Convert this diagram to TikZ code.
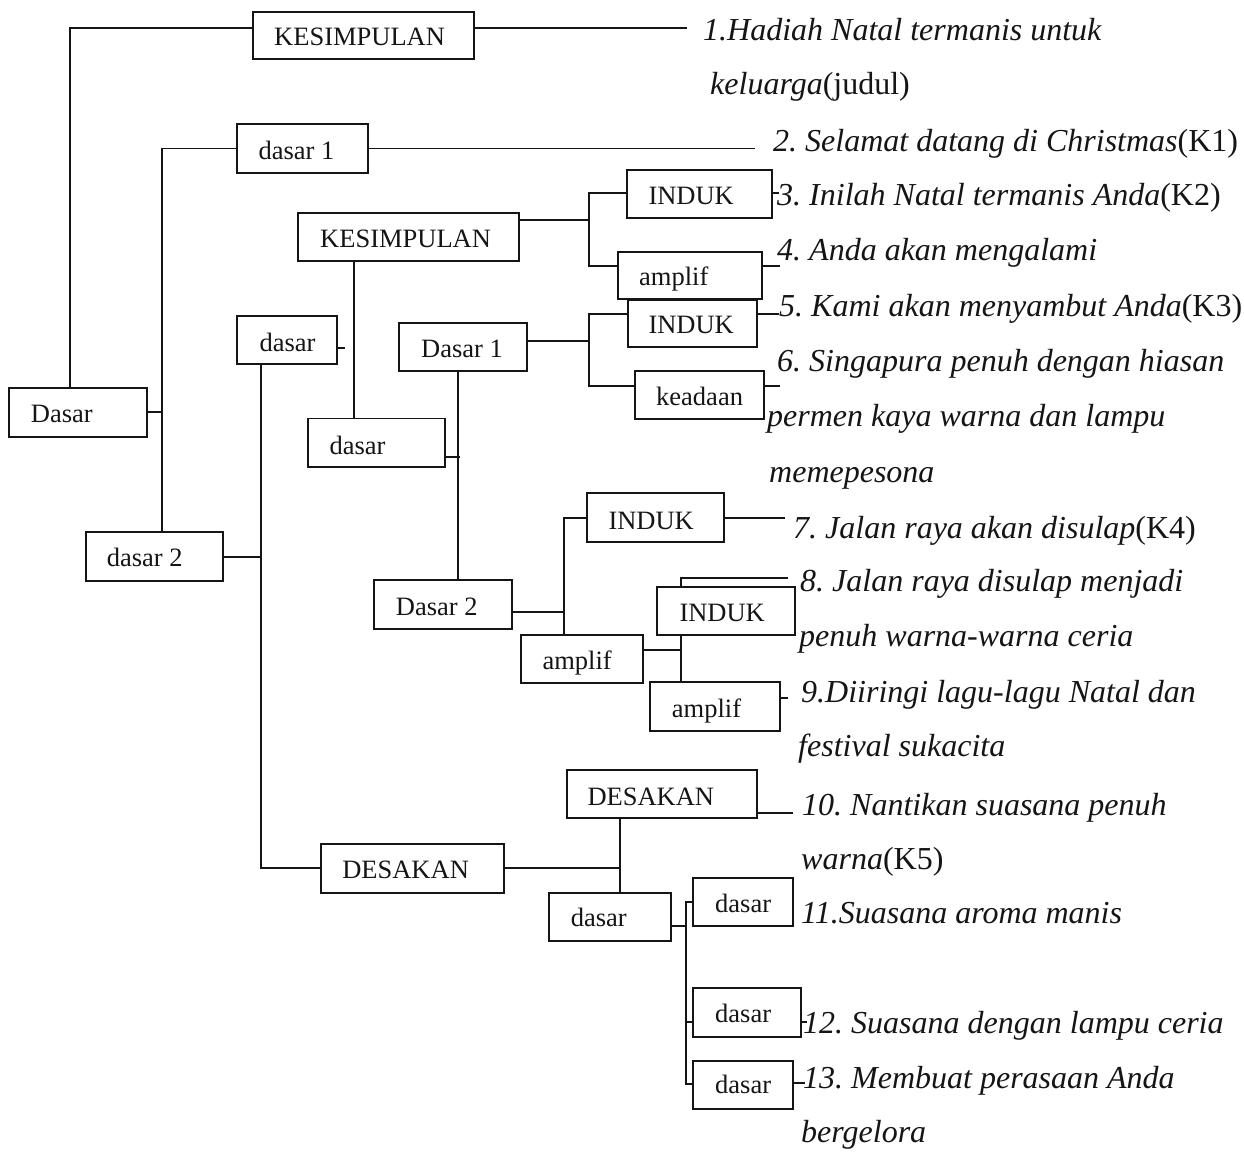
\documentclass[tikz,border=0pt]{standalone}
\usepackage{fontspec}
\setmainfont{Liberation Serif}
\frenchspacing
\definecolor{ink}{HTML}{151515}
\tikzset{
  box/.style={draw=ink, fill=white, line width=1.8pt, inner sep=0pt, outer sep=0pt},
  boxlabel/.style={anchor=base west, inner sep=0pt, text=ink, font=\fontsize{26.5}{30}\selectfont},
  itlabel/.style={anchor=base west, inner sep=0pt, text=ink, font=\fontsize{32}{38}\selectfont\itshape},
  wire/.style={draw=ink, line width=1.8pt},
}
% \bx{name}{x1}{y1}{x2}{y2}{text x}{text baseline}{text}
\newcommand\bx[8]{%
  \node[box, minimum width={(#4-#2)*1pt}, minimum height={(#5-#3)*1pt}] (#1) at ({(#2+#4)/2},{(#3+#5)/2}) {};
  \node[boxlabel] (#1-t) at (#6,#7) {#8};
}
\begin{document}
\begin{tikzpicture}[x=1pt, y=-1pt]
\useasboundingbox[fill=white] (0,0) rectangle (1244,1151);

% junction and end points of the connectors
\coordinate (jK)   at (70,28.3);
\coordinate (e1)   at (686.7,28.3);
\coordinate (jD1)  at (162.3,148.5);
\coordinate (e2)   at (755,148.5);
\coordinate (jD0)  at (162.3,412.3);
\coordinate (jD2)  at (260.7,556.7);
\coordinate (jE)   at (260.7,868.3);
\coordinate (s1)   at (345,347.7);
\coordinate (v1)   at (354,300);
\coordinate (s2)   at (460.3,457.3);
\coordinate (v2)   at (458,470);
\coordinate (jK2)  at (589.3,220);
\coordinate (b1)   at (589.3,193.3);
\coordinate (b2)   at (589.3,265.7);
\coordinate (jDa1) at (589.3,340.7);
\coordinate (b3)   at (589.3,314);
\coordinate (b4)   at (589.3,386);
\coordinate (s3)   at (779,193.3);
\coordinate (s4)   at (780,266);
\coordinate (s5)   at (779.3,314);
\coordinate (s6)   at (780,386);
\coordinate (jDa2) at (564.3,611.7);
\coordinate (b5)   at (564.3,517.7);
\coordinate (e7)   at (785,517.7);
\coordinate (jA2)  at (681,650);
\coordinate (b6)   at (681,577.7);
\coordinate (e8)   at (788.3,577.7);
\coordinate (s9)   at (788.3,697.7);
\coordinate (jE1)  at (620,868.3);
\coordinate (s10)  at (793.3,812.7);
\coordinate (jde)  at (686,925.7);
\coordinate (b7)   at (686,901.7);
\coordinate (b8)   at (686,1022.3);
\coordinate (b9)   at (686,1084.3);
\coordinate (s12)  at (807,1022.3);
\coordinate (s13)  at (805,1083.3);

% ---- boxes ----
\bx{K1}{253}{12}{474}{59.3}{274}{45.7}{KESIMPULAN}
\bx{D1}{237.3}{124.3}{367.7}{172.7}{258.3}{159.3}{dasar 1}
\bx{D0}{9.3}{388.3}{146.7}{436.7}{30.7}{422.7}{Dasar}
\bx{D2}{85.7}{531.7}{222.7}{580.7}{106.7}{566.7}{dasar 2}
\bx{ds}{237.3}{316}{337.3}{364.3}{259.3}{351}{dasar}
\bx{K2}{298.3}{213.3}{519.3}{261}{320}{247.3}{KESIMPULAN}
\bx{dm}{308}{418.5}{445}{467}{329.3}{454}{dasar}
\bx{I1}{627.3}{170}{772.3}{217.7}{648.3}{204.3}{INDUK}
\bx{A1}{617.7}{251.7}{762.3}{299}{639}{285}{amplif}
\bx{I2}{627.7}{300}{757.3}{346.7}{648.3}{333.3}{INDUK}
\bx{Da1}{399}{323.3}{527}{371}{421}{357.7}{Dasar 1}
\bx{ke}{635}{370.7}{764.3}{418.7}{656}{405.7}{keadaan}
\bx{Da2}{374}{580}{511.7}{628.7}{395.7}{615}{Dasar 2}
\bx{I3}{587.3}{493.3}{724.3}{542}{608.3}{529.3}{INDUK}
\bx{A2}{520.7}{635}{642.7}{683.3}{542.3}{669}{amplif}
\bx{A3}{650}{682.3}{780}{731}{671.7}{717.3}{amplif}
\bx{E1}{321}{844.3}{504}{892.7}{342.1}{878.3}{DESAKAN}
\bx{E2}{566.7}{770}{757.3}{818.3}{587.3}{805}{DESAKAN}
\bx{de}{549}{892.7}{671}{941}{570.7}{926.7}{dasar}
\bx{dA}{693.3}{877.7}{793.3}{926}{715}{912.7}{dasar}
\bx{dB}{693.3}{988.3}{800.7}{1036.7}{715}{1022.7}{dasar}
\bx{dC}{693.3}{1060.7}{793.3}{1109}{715}{1093.3}{dasar}

% ---- connectors ----
\draw[wire] (jK -| K1.west) -- (jK) -- (jK |- D0.north);
\draw[wire] (jK -| K1.east) -- (e1);
\draw[wire] (jD1 -| D1.west) -- (jD1) -- (jD1 |- D2.north);
\draw[wire] (jD1 -| D1.east) -- (e2);
\draw[wire] (jD0 -| D0.east) -- (jD0);
\draw[wire] (jD2 -| D2.east) -- (jD2);
\draw[wire] (jE |- ds.south) -- (jE) -- (jE -| E1.west);
\draw[wire] (s1 -| ds.east) -- (s1);
\draw[wire] (K2.south -| v1) -- (dm.north -| v1);
\draw[wire] (s2 -| dm.east) -- (s2);
\draw[wire] (Da1.south -| v2) -- (Da2.north -| v2);
\draw[wire] (jK2 -| K2.east) -- (jK2);
\draw[wire] (b1 -| I1.west) -- (b1) -- (b2) -- (b2 -| A1.west);
\draw[wire] (jDa1 -| Da1.east) -- (jDa1);
\draw[wire] (b3 -| I2.west) -- (b3) -- (b4) -- (b4 -| ke.west);
\draw[wire] (s3 -| I1.east) -- (s3);
\draw[wire] (s4 -| A1.east) -- (s4);
\draw[wire] (s5 -| I2.east) -- (s5);
\draw[wire] (s6 -| ke.east) -- (s6);
\draw[wire] (jDa2 -| Da2.east) -- (jDa2);
\draw[wire] (b5 -| I3.west) -- (b5) -- (b5 |- A2.north);
\draw[wire] (b5 -| I3.east) -- (e7);
\draw[wire] (jA2 -| A2.east) -- (jA2);
\draw[wire] (e8) -- (b6) -- (b6 |- A3.north);
\draw[wire] (s9 -| A3.east) -- (s9);
\draw[wire] (jE1 -| E1.east) -- (jE1);
\draw[wire] (E2.south -| jE1) -- (de.north -| jE1);
\draw[wire] (s10 -| E2.east) -- (s10);
\draw[wire] (jde -| de.east) -- (jde);
\draw[wire] (b7 -| dA.west) -- (b7) -- (b9) -- (b9 -| dC.west);
\draw[wire] (b8) -- (b8 -| dB.west);
\draw[wire] (s12 -| dB.east) -- (s12);
\draw[wire] (s13 -| dC.east) -- (s13);

% INDUK box that sits over the vertical wire
\bx{I4}{657.3}{587.3}{795}{635}{679.3}{621.7}{INDUK}

% ---- clause texts ----
\node[itlabel] (T1)  at (703,40)    {1.Hadiah Natal termanis untuk};
\node[itlabel] (T1b) at (710,94)    {keluarga\textup{(judul)}};
\node[itlabel] (T2)  at (773,151.5) {2. Selamat datang di Christmas\textup{(K1)}};
\node[itlabel] (T3)  at (777,205)   {3. Inilah Natal termanis Anda\textup{(K2)}};
\node[itlabel] (T4)  at (777,260)   {4. Anda akan mengalami};
\node[itlabel] (T5)  at (779,316)   {5. Kami akan menyambut Anda\textup{(K3)}};
\node[itlabel] (T6)  at (777,371.7) {6. Singapura penuh dengan hiasan};
\node[itlabel] (T6b) at (767,426.7) {permen kaya warna dan lampu};
\node[itlabel] (T6c) at (769,482)   {memepesona};
\node[itlabel] (T7)  at (793,538.3) {7. Jalan raya akan disulap\textup{(K4)}};
\node[itlabel] (T8)  at (800,591.7) {8. Jalan raya disulap menjadi};
\node[itlabel] (T8b) at (799,646.7) {penuh warna-warna ceria};
\node[itlabel] (T9)  at (801,702.3) {9.Diiringi lagu-lagu Natal dan};
\node[itlabel] (T9b) at (798,756.7) {festival sukacita};
\node[itlabel] (T10) at (802,815)   {10. Nantikan suasana penuh};
\node[itlabel] (T10b) at (801,869)  {warna\textup{(K5)}};
\node[itlabel] (T11) at (801,923)   {11.Suasana aroma manis};
\node[itlabel] (T12) at (803,1033)  {12. Suasana dengan lampu ceria};
\node[itlabel] (T13) at (803,1088)  {13. Membuat perasaan Anda};
\node[itlabel] (T13b) at (801,1142) {bergelora};
\end{tikzpicture}
\end{document}
